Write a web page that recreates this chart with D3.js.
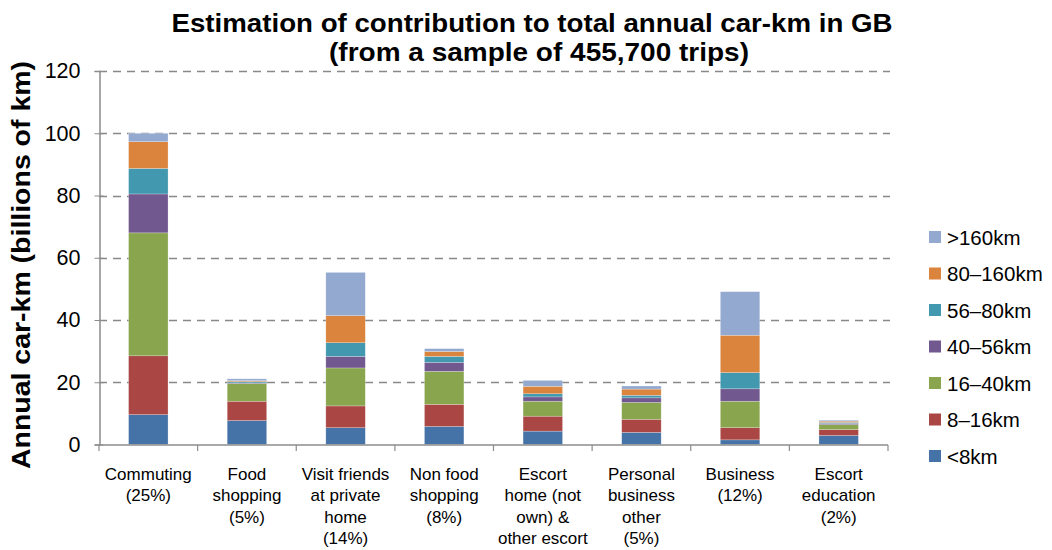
<!DOCTYPE html>
<html>
<head>
<meta charset="utf-8">
<script src="https://cdn.jsdelivr.net/npm/d3@7"></script>
<style>
  html, body { margin: 0; padding: 0; background: #fff; }
  svg { display: block; font-family: "Liberation Sans", Arial, sans-serif; }
</style>
</head>
<body>
<svg id="chart" width="1052" height="550"></svg>
<script>
// ---- data ----
const categories = ["Commuting", "Food shopping", "Visit friends", "Non food shopping",
  "Escort home", "Personal business", "Business", "Escort education"];
const categoryLabels = [
  ["Commuting", "(25%)"],
  ["Food", "shopping", "(5%)"],
  ["Visit friends", "at private", "home", "(14%)"],
  ["Non food", "shopping", "(8%)"],
  ["Escort", "home (not", "own) &", "other escort"],
  ["Personal", "business", "other", "(5%)"],
  ["Business", "(12%)"],
  ["Escort", "education", "(2%)"]
];
const seriesNames = ["<8km", "8–16km", "16–40km", "40–56km", "56–80km", "80–160km", ">160km"];
const lt8km     = [9.6, 7.7, 5.4, 5.8, 4.3, 3.9, 1.5, 2.9];
const km8to16   = [18.9, 6.2, 7.0, 7.1, 4.8, 4.2, 3.9, 1.9];
const km16to40  = [39.5, 5.7, 12.2, 10.6, 4.8, 5.4, 8.5, 1.6];
const km40to56  = [12.5, 0.2, 3.7, 2.9, 1.4, 1.5, 4.0, 0.4];
const km56to80  = [8.2, 0.4, 4.4, 1.9, 1.0, 0.8, 5.2, 0.3];
const km80to160 = [8.6, 0.3, 8.7, 1.6, 2.4, 2.0, 12.0, 0.4];
const gt160km   = [2.7, 0.6, 13.9, 0.9, 1.9, 1.0, 14.0, 0.3];
const seriesValues = [lt8km, km8to16, km16to40, km40to56, km56to80, km80to160, gt160km];
const yTicks = [0, 20, 40, 60, 80, 100, 120];
const colors = ["#4572A7", "#AA4643", "#89A54E", "#71588F", "#4198AF", "#DB843D", "#93A9CF"];

// ---- build ----
const svg = d3.select("#chart");
const x = d3.scaleBand().domain(categories).range([99, 888]).padding(0);
const y = d3.scaleLinear().domain([0, 120]).range([444.5, 71]);
const barW = x.bandwidth() * 0.4;

// gridlines
svg.append("g").selectAll("line").data(yTicks.filter(d => d > 0)).join("line")
  .attr("x1", 99).attr("x2", 890)
  .attr("y1", d => Math.round(y(d)) + 0.5).attr("y2", d => Math.round(y(d)) + 0.5)
  .attr("stroke", "#888888").attr("stroke-width", 1.3).attr("stroke-dasharray", "8,6");

// stacked bars
const table = categories.map((c, i) => {
  const o = { cat: c };
  seriesNames.forEach((s, j) => o[s] = seriesValues[j][i]);
  return o;
});
const stack = d3.stack().keys(seriesNames)(table);
svg.append("g").selectAll("g").data(stack).join("g")
  .attr("fill", (d, i) => colors[i])
  .selectAll("rect").data(d => d).join("rect")
  .attr("x", d => x(d.data.cat) + (x.bandwidth() - barW) / 2)
  .attr("width", barW)
  .attr("y", d => y(d[1]))
  .attr("height", d => y(d[0]) - y(d[1]))
  .attr("stroke", "#ffffff").attr("stroke-opacity", 0.4).attr("stroke-width", 0.6);

// y axis
const yAxis = d3.axisLeft(y).tickValues(yTicks).tickSize(5).tickPadding(14);
const yg = svg.append("g").attr("transform", "translate(99.5,0)").call(yAxis);
yg.select(".domain").attr("stroke", "#8c8c8c").attr("stroke-width", 1.5);
yg.selectAll(".tick line").attr("stroke", "#8c8c8c").attr("x2", -5).attr("x1", 4);
yg.selectAll(".tick text").attr("font-size", "21.5px").attr("fill", "#000")
  .attr("font-family", "Liberation Sans, Arial, sans-serif");

// x axis
const xg = svg.append("g").attr("transform", "translate(0,445)");
xg.append("line").attr("x1", 99).attr("x2", 888).attr("y1", 0).attr("y2", 0)
  .attr("stroke", "#8c8c8c").attr("stroke-width", 1.5);
const bounds = categories.map(c => x(c)).concat([x.range()[1]]);
xg.selectAll("line.tk").data(bounds).join("line").attr("class", "tk")
  .attr("x1", d => d).attr("x2", d => d).attr("y1", 0).attr("y2", 6)
  .attr("stroke", "#8c8c8c").attr("stroke-width", 1.2);

// category labels
const labG = svg.append("g");
categories.forEach((c, i) => {
  const t = labG.append("text")
    .attr("x", x(c) + x.bandwidth() / 2)
    .attr("text-anchor", "middle").attr("font-size", "17px").attr("fill", "#000");
  categoryLabels[i].forEach((line, k) => {
    t.append("tspan").attr("x", x(c) + x.bandwidth() / 2).attr("y", 480 + k * 21.3).text(line);
  });
});

// title
svg.append("text").attr("x", 532).attr("y", 32).attr("text-anchor", "middle")
  .attr("font-size", "25px").attr("font-weight", "bold")
  .attr("textLength", 721).attr("lengthAdjust", "spacingAndGlyphs")
  .text("Estimation of contribution to total annual car-km in GB");
svg.append("text").attr("x", 539).attr("y", 61).attr("text-anchor", "middle")
  .attr("font-size", "25px").attr("font-weight", "bold")
  .attr("textLength", 420).attr("lengthAdjust", "spacingAndGlyphs")
  .text("(from a sample of 455,700 trips)");

// y title
svg.append("text").attr("transform", "translate(30,265) rotate(-90)")
  .attr("text-anchor", "middle").attr("font-size", "25px").attr("font-weight", "bold")
  .attr("textLength", 408).attr("lengthAdjust", "spacingAndGlyphs")
  .text("Annual car-km (billions of km)");

// legend
const legendOrder = seriesNames.map((s, i) => i).reverse();
const lg = svg.append("g");
legendOrder.forEach((si, k) => {
  const cy = 237 + k * 36.5;
  lg.append("rect").attr("x", 929).attr("y", cy - 6).attr("width", 12).attr("height", 12)
    .attr("fill", colors[si]);
  lg.append("text").attr("x", 947).attr("y", cy + 7.5).attr("font-size", "20.5px")
    .attr("fill", "#000").text(seriesNames[si]);
});
</script>
</body>
</html>
